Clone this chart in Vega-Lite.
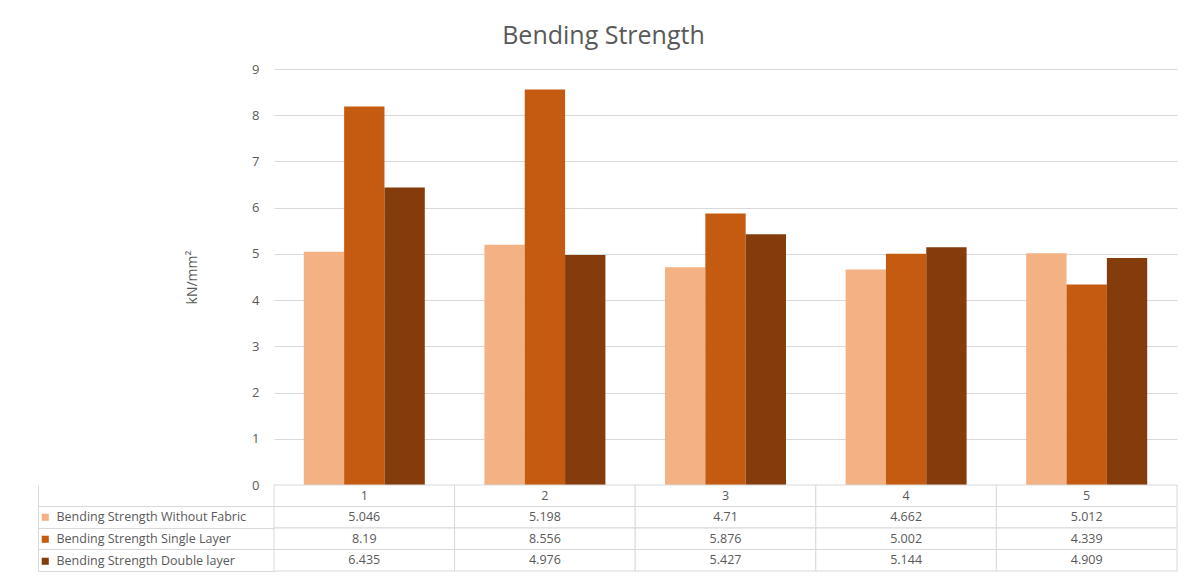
{
  "$schema": "https://vega.github.io/schema/vega-lite/v6.json",
  "padding": {"left": 37, "top": 24, "right": 10, "bottom": 2},
  "background": "white",
  "title": {"text": "Bending Strength", "fontSize": 25, "font": "Open Sans", "fontWeight": "normal", "color": "#595959", "anchor": "middle", "frame": "group", "dx": -122, "offset": 14},
  "data": {"values": [
    {"sample": "1", "series": "Bending Strength Without Fabric", "value": 5.046},
    {"sample": "1", "series": "Bending Strength Single Layer", "value": 8.19},
    {"sample": "1", "series": "Bending Strength Double layer", "value": 6.435},
    {"sample": "2", "series": "Bending Strength Without Fabric", "value": 5.198},
    {"sample": "2", "series": "Bending Strength Single Layer", "value": 8.556},
    {"sample": "2", "series": "Bending Strength Double layer", "value": 4.976},
    {"sample": "3", "series": "Bending Strength Without Fabric", "value": 4.71},
    {"sample": "3", "series": "Bending Strength Single Layer", "value": 5.876},
    {"sample": "3", "series": "Bending Strength Double layer", "value": 5.427},
    {"sample": "4", "series": "Bending Strength Without Fabric", "value": 4.662},
    {"sample": "4", "series": "Bending Strength Single Layer", "value": 5.002},
    {"sample": "4", "series": "Bending Strength Double layer", "value": 5.144},
    {"sample": "5", "series": "Bending Strength Without Fabric", "value": 5.012},
    {"sample": "5", "series": "Bending Strength Single Layer", "value": 4.339},
    {"sample": "5", "series": "Bending Strength Double layer", "value": 4.909}
  ]},
  "spacing": 0,
  "bounds": "flush",
  "resolve": {"scale": {"color": "independent"}, "legend": {"color": "independent"}},
  "vconcat": [
    {
      "width": 903,
      "height": 416,
      "mark": {"type": "bar"},
      "encoding": {
        "x": {"field": "sample", "type": "nominal", "sort": ["1", "2", "3", "4", "5"],
              "scale": {"paddingInner": 0.33, "paddingOuter": 0.165},
              "axis": {"labels": false, "ticks": false, "title": null, "domain": true, "domainColor": "#d9d9d9", "domainWidth": 1}},
        "xOffset": {"field": "series", "type": "nominal",
              "scale": {"domain": ["Bending Strength Without Fabric", "Bending Strength Single Layer", "Bending Strength Double layer"], "paddingInner": 0, "paddingOuter": 0}},
        "y": {"field": "value", "type": "quantitative",
              "scale": {"domain": [0, 9], "nice": false},
              "axis": {"values": [0, 1, 2, 3, 4, 5, 6, 7, 8, 9], "grid": true, "gridColor": "#d9d9d9", "domain": false, "ticks": false,
                       "labelColor": "#595959", "labelFontSize": 13, "labelPadding": 15, "labelFont": "Open Sans",
                       "title": "kN/mm²", "titleColor": "#595959", "titleFontSize": 14, "titleFontWeight": "normal", "titleFont": "Open Sans", "titlePadding": 52}},
        "color": {"field": "series", "type": "nominal",
                  "scale": {"domain": ["Bending Strength Without Fabric", "Bending Strength Single Layer", "Bending Strength Double layer"],
                            "range": ["#F4B183", "#C55A11", "#843C0C"]},
                  "legend": {"orient": "none", "legendX": -235, "legendY": 442, "title": null, "symbolType": "square", "symbolSize": 50,
                             "symbolStrokeWidth": 0, "labelFontSize": 12.5, "labelColor": "#595959", "labelFont": "Open Sans", "rowPadding": 9, "labelOffset": 5, "labelLimit": 400}}
      }
    },
    {
      "width": 903,
      "height": 86,
      "resolve": {"axis": {"y": "independent"}},
      "layer": [
        {
          "mark": {"type": "rect", "fill": "white", "stroke": "#d9d9d9", "strokeWidth": 1},
          "encoding": {
            "x": {"field": "sample", "type": "nominal", "sort": ["1", "2", "3", "4", "5"], "scale": {"paddingInner": 0, "paddingOuter": 0}, "axis": null},
            "y": {"field": "series", "type": "nominal",
                  "scale": {"domain": ["hdr", "Bending Strength Without Fabric", "Bending Strength Single Layer", "Bending Strength Double layer"], "paddingInner": 0, "paddingOuter": 0},
                  "axis": {"orient": "left", "values": ["Bending Strength Without Fabric", "Bending Strength Single Layer", "Bending Strength Double layer"],
                           "bandPosition": 0, "labels": false, "domain": false, "ticks": true, "tickSize": 236, "tickColor": "#d9d9d9", "tickWidth": 1, "title": null, "grid": false}}
          }
        },
        {
          "transform": [{"filter": "datum.series == 'Bending Strength Without Fabric'"}],
          "mark": {"type": "rect", "fill": "white", "stroke": "#d9d9d9", "strokeWidth": 1},
          "encoding": {
            "x": {"field": "sample", "type": "nominal", "sort": ["1", "2", "3", "4", "5"], "axis": null},
            "y": {"datum": "hdr", "type": "nominal",
                  "axis": {"orient": "left", "offset": 236, "labels": false, "ticks": false, "domain": true, "domainColor": "#d9d9d9", "title": null, "grid": false}}
          }
        },
        {
          "mark": {"type": "text", "fontSize": 12.5, "color": "#595959", "font": "Open Sans", "baseline": "middle"},
          "encoding": {
            "x": {"field": "sample", "type": "nominal", "sort": ["1", "2", "3", "4", "5"], "axis": null},
            "y": {"field": "series", "type": "nominal",
                  "axis": {"orient": "left", "values": ["Bending Strength Double layer"], "bandPosition": 1, "labels": false, "domain": false,
                           "ticks": true, "tickSize": 236, "tickColor": "#d9d9d9", "tickWidth": 1, "title": null, "grid": false}},
            "text": {"field": "value", "type": "nominal"}
          }
        },
        {
          "transform": [{"filter": "datum.series == 'Bending Strength Without Fabric'"}],
          "mark": {"type": "text", "fontSize": 12.5, "color": "#595959", "font": "Open Sans", "baseline": "middle"},
          "encoding": {
            "x": {"field": "sample", "type": "nominal", "sort": ["1", "2", "3", "4", "5"], "axis": null},
            "y": {"datum": "hdr", "type": "nominal", "axis": null},
            "text": {"field": "sample", "type": "nominal"}
          }
        }
      ]
    }
  ],
  "config": {"view": {"stroke": null}, "font": "Open Sans"}
}
